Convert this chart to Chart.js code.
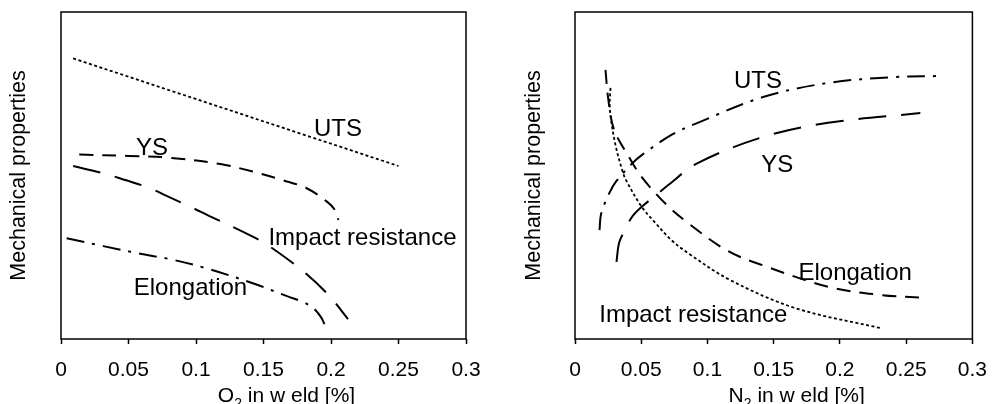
<!DOCTYPE html>
<html><head><meta charset="utf-8">
<script src="https://cdn.jsdelivr.net/npm/chart.js@4.4.0/dist/chart.umd.min.js"></script>
<style>
html,body{margin:0;padding:0;background:#fff;overflow:hidden}
#wrap{position:relative;width:1001px;height:404px}
.c{position:absolute;top:0;height:404px}
#l{left:0;width:500px}
#r{left:500px;width:501px}
</style></head><body>
<div id="wrap"><div class="c" id="l"><canvas id="cl"></canvas></div><div class="c" id="r"><canvas id="cr"></canvas></div></div>
<script>
// ---- tick labels ----
const xTickValues = [0, 0.05, 0.1, 0.15, 0.2, 0.25, 0.3];
const xTickLabels = ['0', '0.05', '0.1', '0.15', '0.2', '0.25', '0.3'];

// ---- left chart: O2 in weld ----
const leftUtsX = [0.009, 0.25];
const leftUtsY = [85.8, 52.9];
const leftYsX = [0.0135, 0.05, 0.0785, 0.118, 0.142, 0.164, 0.182, 0.197, 0.203, 0.2055];
const leftYsY = [56.4, 56.0, 55.5, 53.5, 51.2, 48.6, 46.1, 42.0, 39.4, 36.4];
const leftImpactX = [0.009, 0.031, 0.044, 0.066, 0.077, 0.098, 0.110, 0.142, 0.155, 0.180, 0.198, 0.2126];
const leftImpactY = [52.9, 50.7, 49.1, 46.1, 44.0, 40.0, 37.6, 31.3, 28.2, 20.5, 13.5, 6.1];
const leftElongX = [0.0042, 0.0313, 0.0573, 0.0832, 0.1104, 0.1437, 0.1674, 0.1793, 0.1867, 0.1926, 0.1963];
const leftElongY = [30.8, 28.4, 26.2, 24.2, 21.3, 16.8, 13.1, 11.3, 9.5, 6.7, 3.4];

// ---- right chart: N2 in weld ----
const rightUtsX = [0.0185, 0.0198, 0.0259, 0.0309, 0.0432, 0.0506, 0.0728, 0.0926, 0.142, 0.191, 0.241, 0.2726];
const rightUtsY = [33.3, 38.4, 44.6, 48.1, 53.7, 56.3, 62.4, 66.1, 74.0, 78.3, 80.1, 80.4];
const rightYsX = [0.0313, 0.0333, 0.037, 0.0432, 0.0506, 0.063, 0.0704, 0.0926, 0.142, 0.191, 0.2607];
const rightYsY = [23.6, 29.4, 32.8, 37.4, 40.5, 44.6, 47.1, 53.8, 61.8, 66.1, 69.1];
const rightElongX = [0.023, 0.0252, 0.0296, 0.0407, 0.0504, 0.068, 0.0852, 0.115, 0.142, 0.191, 0.23, 0.263];
const rightElongY = [82.3, 73.1, 63.9, 55.7, 49.5, 41.5, 35.5, 27.0, 22.5, 16.0, 13.5, 12.6];
const rightImpactX = [0.0268, 0.0262, 0.0274, 0.0309, 0.0356, 0.0385, 0.0504, 0.0607, 0.0726, 0.0852, 0.1173, 0.1667, 0.231];
const rightImpactY = [76.8, 71.5, 66.5, 58.7, 51.7, 48.6, 40.4, 35.5, 30.3, 26.3, 18.0, 9.4, 3.3];

const FONT = '"Liberation Sans", Arial, sans-serif';
const DOT = [3, 2.5], MED = [14, 9], LONG = [28, 15], DASHDOT = [18, 8, 3, 8];
const LABEL_SIZE = 24;

function pts(xs, ys) { return xs.map((x, i) => ({x: x, y: ys[i]})); }
function ds(xs, ys, dash, w) {
  return {data: pts(xs, ys), showLine: true, pointRadius: 0, borderColor: '#000',
    borderWidth: w || 2, borderDash: dash, tension: 0.35, fill: false};
}

const decor = {
  id: 'decor',
  afterDraw(chart, args, o) {
    const {ctx, chartArea: a, scales: {x, y}} = chart;
    ctx.save();
    ctx.strokeStyle = '#000'; ctx.lineWidth = 1.5;
    ctx.strokeRect(a.left, a.top, a.right - a.left, a.bottom - a.top);
    ctx.fillStyle = '#000';
    ctx.textAlign = 'center'; ctx.textBaseline = 'alphabetic';
    ctx.font = LABEL_SIZE + 'px ' + FONT;
    o.labels.forEach(l => {
      ctx.fillText(l.text, x.getPixelForValue(l.x), y.getPixelForValue(l.y) + LABEL_SIZE * 0.358);
    });
    // x axis title with subscript
    ctx.textAlign = 'left';
    const big = '21px ' + FONT, small = '14px ' + FONT;
    ctx.font = big; const w1 = ctx.measureText(o.main).width; const w3 = ctx.measureText(o.rest).width;
    ctx.font = small; const w2 = ctx.measureText(o.sub).width;
    let sx = (a.left + a.right) / 2 + o.shift - (w1 + w2 + w3) / 2;
    const by = o.baseline;
    ctx.font = big; ctx.fillText(o.main, sx, by); sx += w1;
    ctx.font = small; ctx.fillText(o.sub, sx, by + 6); sx += w2;
    ctx.font = big; ctx.fillText(o.rest, sx, by);
    ctx.restore();
  }
};

function makeChart(id, datasets, labels, sub, padLeft, padRight, yWidth) {
  return new Chart(document.getElementById(id), {
    type: 'scatter',
    data: {datasets: datasets},
    plugins: [decor],
    options: {
      responsive: true, maintainAspectRatio: false, animation: false, events: [],
      layout: {padding: {left: padLeft, right: padRight, top: 12, bottom: 0}},
      plugins: {legend: {display: false}, tooltip: {enabled: false},
        decor: {labels: labels, main: sub[0], sub: sub[1], rest: sub[2], shift: 23, baseline: 402}},
      scales: {
        x: {type: 'linear', min: 0, max: 0.3,
          afterBuildTicks: s => { s.ticks = xTickValues.map(v => ({value: v})); },
          afterFit: s => { s.height = 65; },
          ticks: {callback: (v, i) => xTickLabels[i], color: '#000', font: {family: FONT, size: 21},
            padding: 14, maxRotation: 0, autoSkip: false},
          grid: {display: true, drawOnChartArea: false, drawTicks: true, tickLength: 5, tickColor: '#000', tickWidth: 1.5},
          border: {display: false}
        },
        y: {type: 'linear', min: 0, max: 100,
          afterFit: s => { s.width = yWidth; },
          ticks: {display: false},
          grid: {display: false},
          border: {display: false},
          title: {display: true, text: 'Mechanical properties', color: '#000',
            font: {family: FONT, size: 21.5}, padding: {top: 6.1, bottom: 0}}
        }
      }
    }
  });
}

makeChart('cl', [
  ds(leftUtsX, leftUtsY, DOT, 1.8),
  ds(leftYsX, leftYsY, MED),
  ds(leftImpactX, leftImpactY, LONG),
  ds(leftElongX, leftElongY, DASHDOT)
], [
  {text: 'UTS', x: 0.2052, y: 64.7},
  {text: 'YS', x: 0.0674, y: 59.0},
  {text: 'Impact resistance', x: 0.2233, y: 31.3},
  {text: 'Elongation', x: 0.0959, y: 16.1}
], ['O', '2', ' in w eld [%]'], 0, 34, 61);

makeChart('cr', [
  ds(rightUtsX, rightUtsY, DASHDOT),
  ds(rightYsX, rightYsY, LONG),
  ds(rightElongX, rightElongY, MED),
  ds(rightImpactX, rightImpactY, DOT, 1.8)
], [
  {text: 'UTS', x: 0.1381, y: 79.4},
  {text: 'YS', x: 0.1526, y: 53.8},
  {text: 'Elongation', x: 0.2115, y: 20.6},
  {text: 'Impact resistance', x: 0.0893, y: 7.8}
], ['N', '2', ' in w eld [%]'], 15, 21, 60);
</script>
</body></html>
